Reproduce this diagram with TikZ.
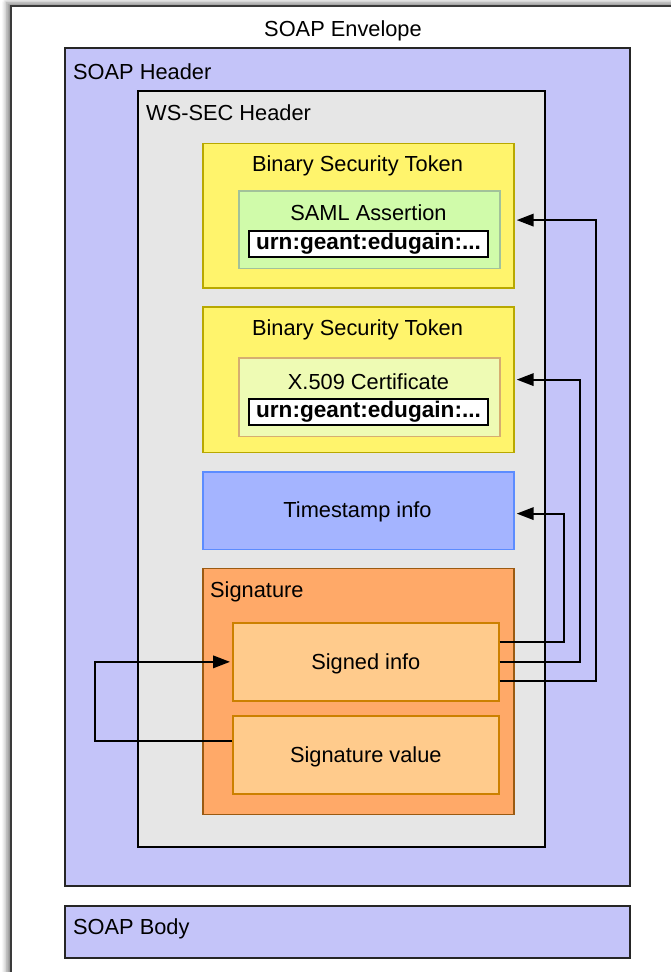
\documentclass[tikz,border=0pt]{standalone}
\usepackage{fontspec}
\setmainfont{Liberation Sans}
\usetikzlibrary{arrows.meta,shadows.blur}

\definecolor{envline}{HTML}{3A3A3A}
\definecolor{hdrfill}{HTML}{C4C4F9}
\definecolor{wsfill}{HTML}{E6E6E6}
\definecolor{bstfill}{HTML}{FFF46C}
\definecolor{bstline}{HTML}{B8A800}
\definecolor{samlfill}{HTML}{D0FBAA}
\definecolor{samlline}{HTML}{A2C29A}
\definecolor{certfill}{HTML}{EEFBB4}
\definecolor{certline}{HTML}{D6AE70}
\definecolor{tsfill}{HTML}{A4B4FF}
\definecolor{tsline}{HTML}{5C8CFF}
\definecolor{sigfill}{HTML}{FFA968}
\definecolor{sigline}{HTML}{9A5A12}
\definecolor{partfill}{HTML}{FFCB8C}
\definecolor{partline}{HTML}{CC8000}

\tikzset{
  box/.style={draw, rectangle, inner sep=0pt, anchor=north west, line width=1.7pt},
  boxlabel/.style={inner sep=0pt, text=black, yshift=-2.5pt},
  urnbox/.style={box, fill=white, draw=black, anchor=center,
    minimum width=239pt, minimum height=26pt,
    font=\fontsize{22.6}{26}\selectfont\bfseries},
  link/.style={draw=black, line width=2pt},
  linkarrow/.style={link, -{Triangle[length=17pt,width=12.5pt]}, shorten >=2pt}
}

\begin{document}
\begin{tikzpicture}[x=1pt, y=-1pt, font=\fontsize{21.8}{26}\selectfont]
\clip (0,0) rectangle (671,972);

% envelope, running off the right and bottom edges
\node[box, draw=envline, fill=white, minimum width=700pt, minimum height=1000pt,
      blur shadow={shadow xshift=-4pt, shadow yshift=3pt, shadow blur radius=5pt, shadow opacity=50}]
  (env) at (10,5) {};
\node[boxlabel] (envlabel) at (343,28) {SOAP Envelope};

% SOAP header
\node[box, fill=hdrfill, draw=black!85, minimum width=565pt, minimum height=838pt] (hdr) at (64,47) {};
\node[boxlabel, anchor=west] (hdrlabel) at (73,69) {SOAP Header};

% WS-Security header
\node[box, fill=wsfill, draw=black, minimum width=407pt, minimum height=756pt] (wss) at (137,90) {};
\node[boxlabel, anchor=west] (wsslabel) at (146,110) {WS-SEC Header};

% first binary security token: SAML assertion
\node[box, fill=bstfill, draw=bstline, minimum width=311pt, minimum height=144.5pt] (bsta) at (202,142.5) {};
\node[boxlabel] (bstalabel) at (357.5,163) {Binary Security Token};
\node[box, fill=samlfill, draw=samlline, minimum width=261pt, minimum height=77.5pt] (saml) at (238,190) {};
\node[boxlabel] (samllabel) at (368.5,210) {SAML Assertion};
\node[urnbox] (urna) at (368.5,244) {urn:geant:edugain:...};

% second binary security token: X.509 certificate
\node[box, fill=bstfill, draw=bstline, minimum width=311pt, minimum height=145.5pt] (bstb) at (202,306) {};
\node[boxlabel] (bstblabel) at (357.5,327) {Binary Security Token};
\node[box, fill=certfill, draw=certline, minimum width=261pt, minimum height=78.5pt] (cert) at (238,357) {};
\node[boxlabel] (certlabel) at (368.5,379) {X.509 Certificate};
\node[urnbox] (urnb) at (368.5,412) {urn:geant:edugain:...};

% timestamp
\node[box, fill=tsfill, draw=tsline, minimum width=311pt, minimum height=77.5pt] (ts) at (202,471) {};
\node[boxlabel] (tslabel) at (357.5,509) {Timestamp info};

% signature
\node[box, fill=sigfill, draw=sigline, minimum width=311pt, minimum height=246pt] (sig) at (202,567.5) {};
\node[boxlabel, anchor=west] (siglabel) at (210,589) {Signature};
\node[box, fill=partfill, draw=partline, minimum width=266pt, minimum height=78pt] (si) at (232,622) {};
\node[boxlabel] (silabel) at (si.center) {Signed info};
\node[box, fill=partfill, draw=partline, minimum width=266pt, minimum height=78pt] (sv) at (232,715) {};
\node[boxlabel] (svlabel) at (sv.center) {Signature value};

% SOAP body
\node[box, fill=hdrfill, draw=black!85, minimum width=565pt, minimum height=52pt] (body) at (64,905) {};
\node[boxlabel, anchor=west] (bodylabel) at (73,926) {SOAP Body};

% references from the signed info
\draw[linkarrow] ([yshift=19.5pt]si.east) -- ++(64,0) |- ([yshift=-3pt]ts.east);
\draw[linkarrow] (si.east) -- ++(80,0) |- (bstb.east);
\draw[linkarrow] ([yshift=-19.5pt]si.east) -- ++(96,0) |- ([yshift=-4.5pt]bsta.east);

% signature value computed over the signed info
\draw[linkarrow] ([yshift=14pt]sv.west) -- ++(-137,0) |- (si.west);
\end{tikzpicture}
\end{document}
